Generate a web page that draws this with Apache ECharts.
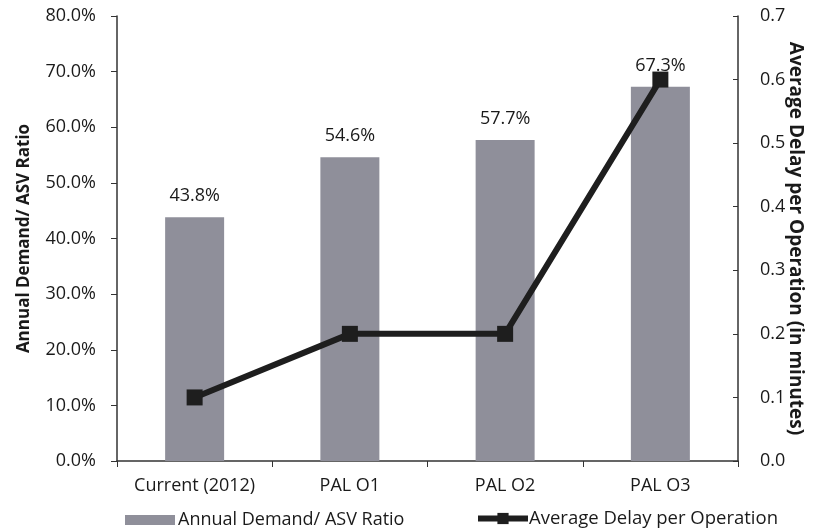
<!DOCTYPE html>
<html>
<head>
<meta charset="utf-8">
<script src="https://cdn.jsdelivr.net/npm/echarts@6/dist/echarts.min.js"></script>
<style>
  html, body { margin: 0; padding: 0; background: #fff; }
  #chart { width: 813px; height: 532px; }
</style>
</head>
<body>
<div id="chart"></div>
<script>
// Scenario categories
const categories = ['Current (2012)', 'PAL O1', 'PAL O2', 'PAL O3'];
// Annual demand to ASV ratio, in percent
const demandRatio = [43.8, 54.6, 57.7, 67.3];
// Average delay per operation, in minutes
const avgDelay = [0.1, 0.2, 0.2, 0.6];

const FONT = '"Open Sans", "Noto Sans", sans-serif';
const TEXT = '#1a1a1a';
const BAR = '#8f8f9a';
const LINE = '#1e1e1e';

const chart = echarts.init(document.getElementById('chart'));
chart.setOption({
  backgroundColor: '#ffffff',
  animation: false,
  textStyle: { fontFamily: FONT, color: TEXT },
  grid: { left: 117, right: 75, top: 16, bottom: 71, containLabel: false, outerBoundsMode: 'none' },
  legend: [
    {
      left: 120,
      top: 506,
      itemWidth: 50,
      itemHeight: 10,
      textStyle: { fontFamily: FONT, fontSize: 18, color: TEXT, padding: [0, 0, 0, -2] },
      data: [{ name: 'Annual Demand/ ASV Ratio', icon: 'rect' }]
    },
    {
      left: 470,
      top: 504,
      itemWidth: 50,
      itemHeight: 14,
      lineStyle: { width: 6 },
      textStyle: { fontFamily: FONT, fontSize: 18.5, color: TEXT, padding: [0, 0, 0, -4] },
      data: [{ name: 'Average Delay per Operation' }]
    }
  ],
  xAxis: {
    type: 'category',
    data: categories,
    axisLine: { lineStyle: { color: '#333', width: 1.5 } },
    axisTick: { show: true, alignWithLabel: false, length: 6, lineStyle: { color: '#333' } },
    axisLabel: { interval: 0, fontFamily: FONT, fontSize: 18, color: TEXT, margin: 16 }
  },
  yAxis: [
    {
      type: 'value',
      min: 0, max: 80, interval: 10,
      name: 'Annual Demand/ ASV Ratio',
      nameLocation: 'middle',
      nameGap: 84,
      nameTextStyle: { fontFamily: FONT, fontSize: 17, fontWeight: 'bold', color: TEXT },
      axisLine: { show: true, lineStyle: { color: '#333', width: 1.5 } },
      axisTick: { show: true, length: 6, lineStyle: { color: '#333' } },
      splitLine: { show: false },
      axisLabel: { fontFamily: FONT, fontSize: 18, color: TEXT, margin: 21,
        formatter: v => v.toFixed(1) + '%' }
    },
    {
      type: 'value',
      min: 0, max: 0.7, interval: 0.1,
      name: 'Average Delay per Operation (in minutes)',
      nameLocation: 'middle',
      nameGap: 48,
      nameMoveOverlap: false,
      nameRotate: -90,
      nameTextStyle: { fontFamily: FONT, fontSize: 19, fontWeight: 'bold', color: TEXT },
      axisLine: { show: true, lineStyle: { color: '#333', width: 1.5 } },
      axisTick: { show: true, inside: true, length: 5, lineStyle: { color: '#333' } },
      splitLine: { show: false },
      axisLabel: { fontFamily: FONT, fontSize: 18, color: TEXT, margin: 22,
        formatter: v => v.toFixed(1) }
    }
  ],
  series: [
    {
      name: 'Annual Demand/ ASV Ratio',
      type: 'bar',
      yAxisIndex: 0,
      data: demandRatio,
      barWidth: '38%',
      itemStyle: { color: BAR },
      label: {
        show: true, position: 'top', distance: 12,
        fontFamily: FONT, fontSize: 18, color: TEXT,
        formatter: p => p.value.toFixed(1) + '%'
      }
    },
    {
      name: 'Average Delay per Operation',
      type: 'line',
      yAxisIndex: 1,
      data: avgDelay,
      symbol: 'rect',
      symbolSize: 16,
      lineStyle: { color: LINE, width: 6 },
      itemStyle: { color: LINE }
    }
  ]
});
</script>
</body>
</html>
